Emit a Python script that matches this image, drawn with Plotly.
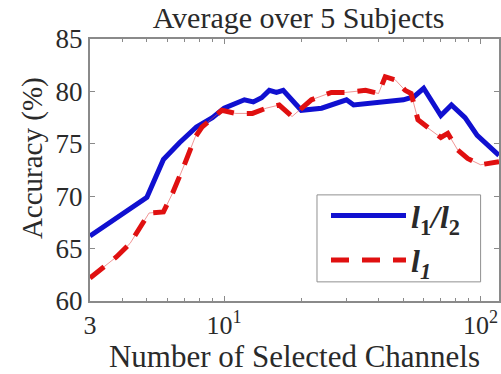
import plotly.graph_objects as go

# Data
ch_l1l2 = [3, 5, 5.8, 6.7, 7.8, 9, 10, 12, 13, 14, 15, 16, 17, 20, 24, 30, 32, 40, 50, 55, 60, 70, 77, 87, 97, 118]
acc_l1l2 = [66.2, 69.9, 73.5, 75.1, 76.6, 77.5, 78.4, 79.2, 79.0, 79.4, 80.1, 79.9, 80.1, 78.2, 78.4, 79.2, 78.7,
            79.0, 79.2, 79.5, 80.3, 77.7, 78.7, 77.5, 75.8, 73.9]

ch_l1 = [3, 3.8, 4.3, 5.1, 5.8, 6.3, 7, 7.7, 8.2, 9.8, 11.1, 12.9, 14.6, 16.4, 18.4, 21.9, 26.2, 29.7, 35.6, 40,
         42.5, 46.5, 50.8, 53.6, 57, 62.4, 70, 74.5, 81.5, 89, 100, 118]
acc_l1 = [62.2, 64.2, 65.5, 68.4, 68.5, 70.3, 73.0, 75.6, 76.6, 78.2, 77.9, 77.9, 78.4, 78.7, 77.6, 79.2, 79.9,
          79.9, 80.1, 79.8, 81.4, 81.1, 80.1, 79.8, 77.3, 76.5, 75.6, 76.0, 74.4, 73.6, 73.0, 73.3]

x_tickvals = [3, 10, 100]
x_ticktext = ["3", "10<sup>1</sup>", "10<sup>2</sup>"]
x_minor = [4, 5, 6, 7, 8, 9, 20, 30, 40, 50, 60, 70, 80, 90]
y_tickvals = [60, 65, 70, 75, 80, 85]

FONT = "Liberation Serif"
AXC = "#8a8a8a"
TXT = "#2a2a2a"

fig = go.Figure()
fig.add_trace(go.Scatter(
    x=ch_l1l2, y=acc_l1l2, mode="lines",
    name="<b><i>l</i><sub>1</sub><i>/l</i><sub>2</sub></b>",
    line=dict(color="#1010d0", width=5)))
fig.add_trace(go.Scatter(
    x=ch_l1, y=acc_l1, mode="lines", showlegend=False,
    line=dict(color="rgba(230,80,80,0.6)", width=1), hoverinfo="skip"))
fig.add_trace(go.Scatter(
    x=ch_l1, y=acc_l1, mode="lines",
    name="<b><i>l</i><sub><i>1</i></sub></b>",
    line=dict(color="#e01010", width=5, dash="18px,13px")))

# legend frame (drawn as a shape so its size matches the reference)
fig.add_shape(type="rect", xref="paper", yref="paper",
              x0=0.555, x1=0.955, y0=0.073, y1=0.405,
              line=dict(color="#909090", width=1), fillcolor="white", layer="below")

# y-axis title placed as an annotation to match the reference position
fig.add_annotation(text="Accuracy (%)", textangle=-90, xref="paper", yref="paper",
                   x=-0.139, y=0.546, xanchor="center", yanchor="middle", showarrow=False,
                   font=dict(family=FONT, size=29, color=TXT))

fig.update_layout(
    width=501, height=374,
    margin=dict(l=90, r=0, t=39, b=73),
    paper_bgcolor="white", plot_bgcolor="white",
    font=dict(family=FONT, size=26, color=TXT),
    title=dict(text="Average over 5 Subjects", x=0.51, xref="paper", xanchor="center",
               y=0.98, yanchor="top", pad=dict(t=0),
               font=dict(family=FONT, size=30, color=TXT)),
    showlegend=True,
    legend=dict(x=0.577, y=0.431, xanchor="left", yanchor="top",
                borderwidth=0, bgcolor="rgba(0,0,0,0)",
                font=dict(family=FONT, size=32, color=TXT),
                itemwidth=75, tracegroupgap=0),
)
fig.update_xaxes(
    type="log", range=[0.47712, 2.07188],
    tickmode="array", tickvals=x_tickvals, ticktext=x_ticktext,
    ticks="inside", ticklen=5, tickcolor=AXC,
    minor=dict(tickmode="array", tickvals=x_minor, ticks="inside", ticklen=3, tickcolor=AXC),
    showline=True, linecolor=AXC, linewidth=2, mirror="ticks",
    showgrid=False, zeroline=False,
    tickfont=dict(family=FONT, size=26, color=TXT),
    title=dict(text="Number of Selected Channels", font=dict(family=FONT, size=31, color=TXT), standoff=6),
)
fig.update_yaxes(
    range=[60, 85], tickmode="array", tickvals=y_tickvals,
    ticks="inside", ticklen=5, tickcolor=AXC,
    showline=True, linecolor=AXC, linewidth=2, mirror="ticks",
    showgrid=False, zeroline=False,
    tickfont=dict(family=FONT, size=27, color=TXT),
)

fig.write_html("out.html")
